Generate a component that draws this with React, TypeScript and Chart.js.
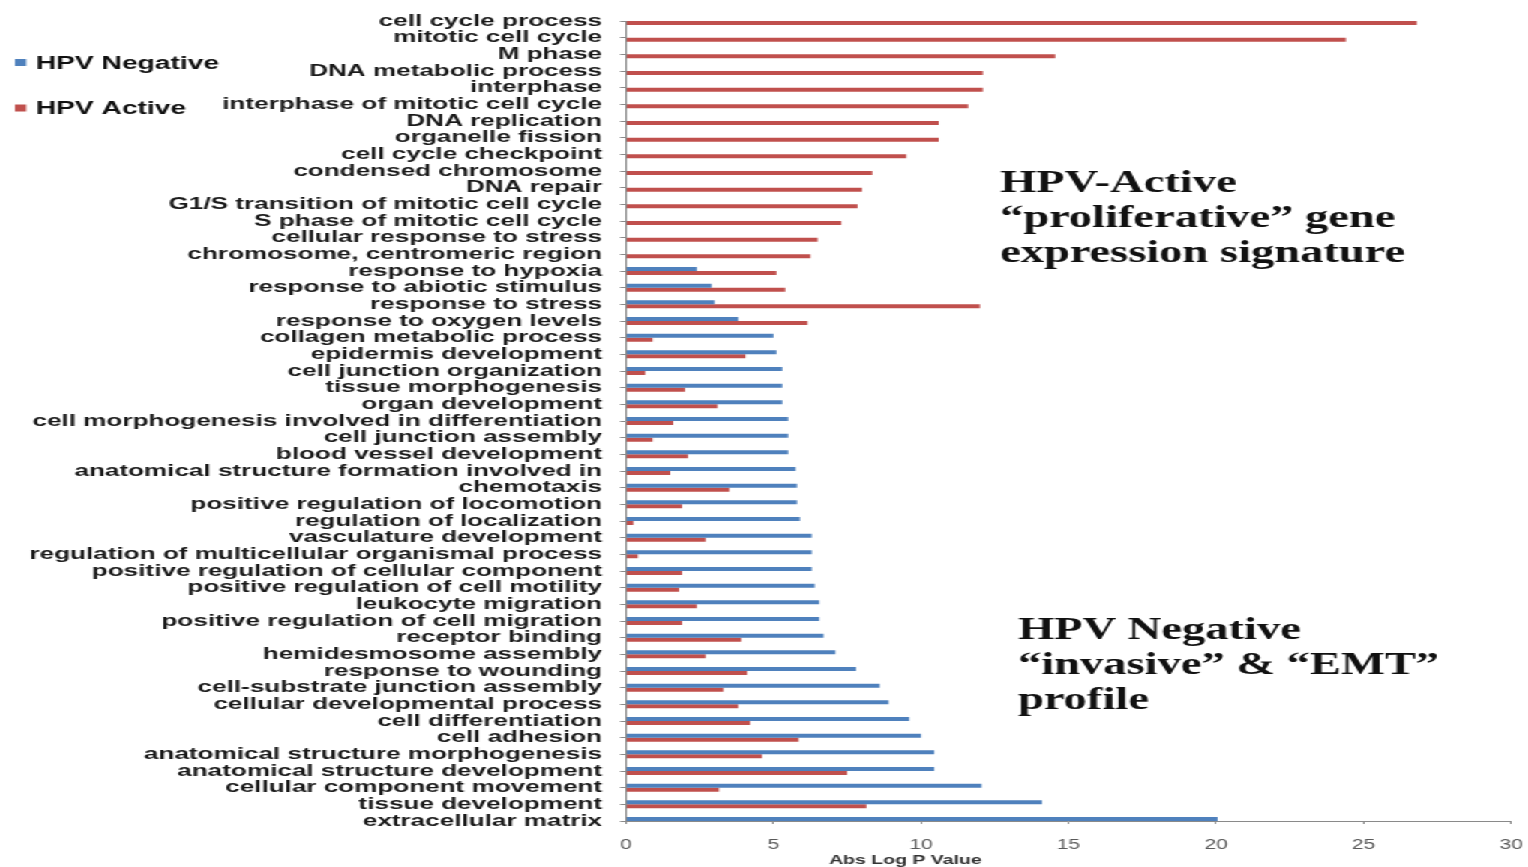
import React, { useEffect, useRef } from "react";
import { Chart, registerables } from "chart.js";

Chart.register(...registerables);

const categories = [
  "cell cycle process",
  "mitotic cell cycle",
  "M phase",
  "DNA metabolic process",
  "interphase",
  "interphase of mitotic cell cycle",
  "DNA replication",
  "organelle fission",
  "cell cycle checkpoint",
  "condensed chromosome",
  "DNA repair",
  "G1/S transition of mitotic cell cycle",
  "S phase of mitotic cell cycle",
  "cellular response to stress",
  "chromosome, centromeric region",
  "response to hypoxia",
  "response to abiotic stimulus",
  "response to stress",
  "response to oxygen levels",
  "collagen metabolic process",
  "epidermis development",
  "cell junction organization",
  "tissue morphogenesis",
  "organ development",
  "cell morphogenesis involved in differentiation",
  "cell junction assembly",
  "blood vessel development",
  "anatomical structure formation involved in",
  "chemotaxis",
  "positive regulation of locomotion",
  "regulation of localization",
  "vasculature development",
  "regulation of multicellular organismal process",
  "positive regulation of cellular component",
  "positive regulation of cell motility",
  "leukocyte migration",
  "positive regulation of cell migration",
  "receptor binding",
  "hemidesmosome assembly",
  "response to wounding",
  "cell-substrate junction assembly",
  "cellular developmental process",
  "cell differentiation",
  "cell adhesion",
  "anatomical structure morphogenesis",
  "anatomical structure development",
  "cellular component movement",
  "tissue development",
  "extracellular matrix",
];

const hpvNegative = [
  0, 0, 0, 0, 0, 0, 0, 0, 0, 0, 0, 0, 0, 0, 0,
  2.4, 2.9, 3.0, 3.8, 5.0, 5.1, 5.3, 5.3, 5.3, 5.5,
  5.5, 5.5, 5.75, 5.8, 5.8, 5.9, 6.3, 6.3, 6.3, 6.4,
  6.55, 6.55, 6.7, 7.1, 7.8, 8.6, 8.9, 9.6, 10.0, 10.45,
  10.45, 12.05, 14.1, 20.05,
];

const hpvActive = [
  26.8, 24.4, 14.55, 12.1, 12.1, 11.6, 10.6, 10.6, 9.5, 8.35,
  8.0, 7.85, 7.3, 6.5, 6.25, 5.1, 5.4, 12.0, 6.15, 0.9,
  4.05, 0.65, 2.0, 3.1, 1.6, 0.9, 2.1, 1.5, 3.5, 1.9,
  0.25, 2.7, 0.4, 1.9, 1.8, 2.4, 1.9, 3.9, 2.7, 4.1,
  3.3, 3.8, 4.2, 5.85, 4.6, 7.5, 3.15, 8.15, 0,
];

const xTicks = [0, 5, 10, 15, 20, 25, 30];
const seriesNames = ["HPV Negative", "HPV Active"];
const seriesColors = ["#4F81BD", "#C0504D"];
const axisTitle = "Abs Log P Value";
const noteActive = ["HPV-Active", "\u201Cproliferative\u201D gene", "expression signature"];
const noteNegative = ["HPV Negative", "\u201Cinvasive\u201D & \u201CEMT\u201D", "profile"];

// the whole picture is stretched horizontally
const SX = 1528 / 1019;
const W = 1019;
const H = 867;

const overlayPlugin = {
  id: "overlay",
  afterDraw(chart: any) {
    const ctx = chart.ctx;
    ctx.save();
    // legend
    ctx.textBaseline = "middle";
    ctx.textAlign = "left";
    ctx.font = "bold 18.8px 'Liberation Sans', Arial, sans-serif";
    const legendY = [62.5, 108];
    seriesNames.forEach((name, i) => {
      ctx.fillStyle = seriesColors[i];
      ctx.fillRect(10, legendY[i] - 3.5, 7.5, 7);
      ctx.fillStyle = "#111";
      ctx.fillText(name, 24, legendY[i] + 1);
    });
    // annotations
    ctx.font = "bold 31px 'Liberation Serif', 'Times New Roman', serif";
    ctx.fillStyle = "#111";
    noteActive.forEach((t, i) => ctx.fillText(t, 1000 / SX, 184 + i * 35));
    noteNegative.forEach((t, i) => ctx.fillText(t, 1018 / SX, 631 + i * 35));
    // axis title
    ctx.font = "bold 13px 'Liberation Sans', Arial, sans-serif";
    ctx.textAlign = "center";
    ctx.fillStyle = "#333";
    ctx.fillText(axisTitle, 905.5 / SX, 860);
    ctx.restore();
  },
};

export default function App() {
  const ref = useRef<HTMLCanvasElement | null>(null);
  useEffect(() => {
    if (!ref.current) return;
    const chart = new Chart(ref.current, {
      type: "bar",
      data: {
        labels: categories,
        datasets: [
          {
            label: seriesNames[0],
            data: hpvNegative,
            backgroundColor: seriesColors[0],
            borderWidth: 0,
            categoryPercentage: 0.48,
            barPercentage: 1,
          },
          {
            label: seriesNames[1],
            data: hpvActive,
            backgroundColor: seriesColors[1],
            borderWidth: 0,
            categoryPercentage: 0.48,
            barPercentage: 1,
          },
        ],
      },
      options: {
        indexAxis: "y",
        animation: false,
        responsive: true,
        maintainAspectRatio: false,
        layout: { padding: { top: 21, right: 11.3, bottom: 0, left: 0 } },
        plugins: {
          legend: { display: false },
          tooltip: { enabled: false },
          title: { display: false },
        },
        scales: {
          y: {
            type: "category",
            offset: false,
            grid: {
              offset: false,
              drawOnChartArea: false,
              drawTicks: true,
              tickLength: 4,
              color: "#8a8a8a",
            },
            border: { display: true, color: "#8a8a8a", width: 1 },
            ticks: {
              autoSkip: false,
              padding: 12,
              color: "#1a1a1a",
              font: {
                family: "'Liberation Sans', Arial, sans-serif",
                size: 17.4,
                weight: "bold",
                lineHeight: 1,
              },
            },
            afterFit(scale: any) {
              scale.width = 626 / SX;
              scale.paddingTop = 0;
              scale.paddingBottom = 0;
            },
          },
          x: {
            min: 0,
            max: 30,
            grid: {
              drawOnChartArea: false,
              drawTicks: true,
              tickLength: 3,
              color: "#8a8a8a",
            },
            border: { display: true, color: "#8a8a8a", width: 1 },
            afterBuildTicks(scale: any) {
              scale.ticks = xTicks.map((v) => ({ value: v }));
            },
            ticks: {
              padding: 14,
              color: "#595959",
              maxRotation: 0,
              font: {
                family: "'Liberation Sans', Arial, sans-serif",
                size: 14,
                lineHeight: 1,
              },
            },
            afterFit(scale: any) {
              scale.height = H - 821;
              scale.paddingLeft = 0;
              scale.paddingRight = 0;
            },
          },
        },
      },
      plugins: [overlayPlugin],
    });
    return () => chart.destroy();
  }, []);

  return (
    <div
      style={{
        position: "fixed",
        left: 0,
        top: 0,
        width: W,
        height: H,
        transform: `scaleX(${SX})`,
        transformOrigin: "0 0",
        background: "#fff",
      }}
    >
      <canvas ref={ref} style={{ display: "block" }} />
    </div>
  );
}
